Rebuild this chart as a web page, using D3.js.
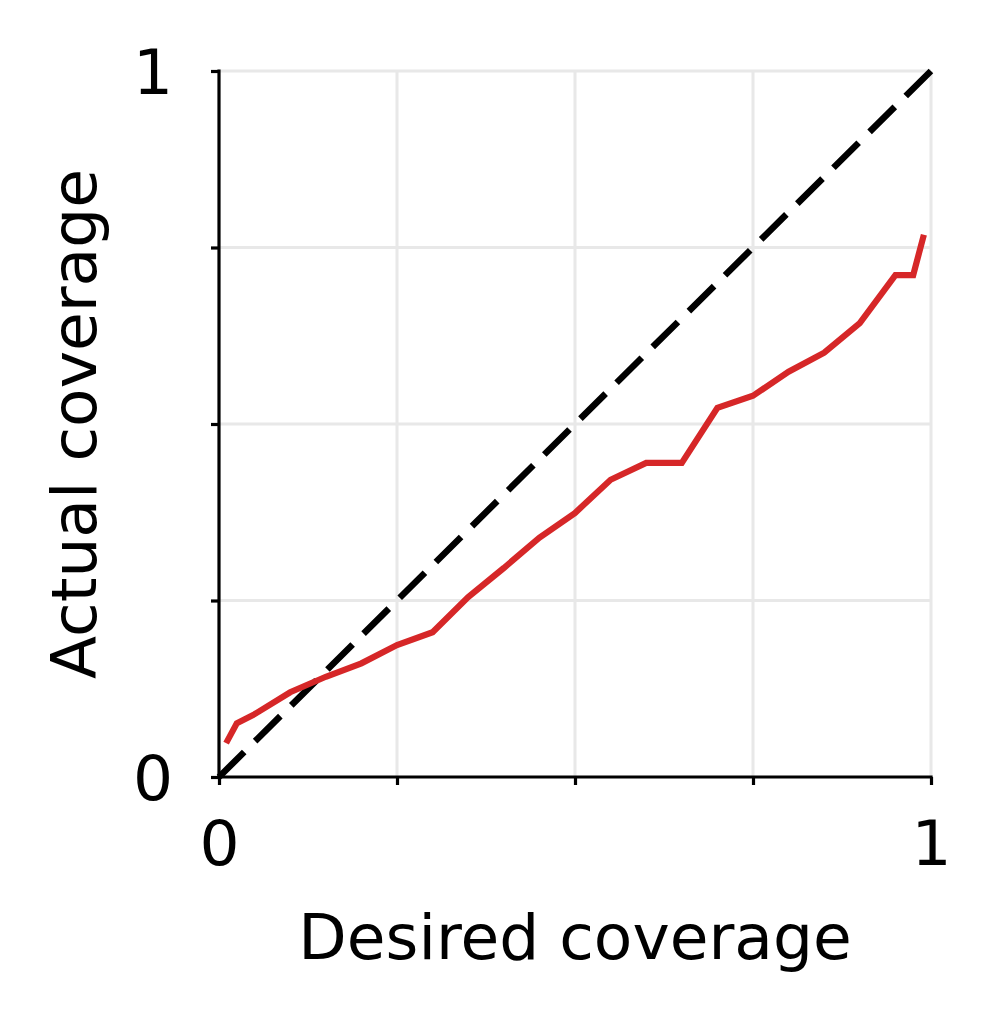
<!DOCTYPE html>
<html>
<head>
<meta charset="utf-8">
<script src="https://cdn.jsdelivr.net/npm/d3@7"></script>
<style>
  body { margin: 0; background: #fff; }
  text { font-family: "DejaVu Sans", sans-serif; fill: #000; }
</style>
</head>
<body>
<div class="viz"></div>
<script>
// desired vs actual coverage
const desired = [0.01, 0.025, 0.05, 0.1, 0.15, 0.2, 0.25, 0.3, 0.35, 0.4, 0.45, 0.5,
                 0.55, 0.6, 0.65, 0.7, 0.75, 0.8, 0.85, 0.9, 0.95, 0.975, 0.99]
const actual = [0.048, 0.076, 0.089, 0.120, 0.142, 0.161, 0.187, 0.205, 0.255, 0.296, 0.339, 0.374,
                0.421, 0.445, 0.445, 0.523, 0.540, 0.574, 0.601, 0.643, 0.711, 0.711, 0.768]
const tickVals = [0, 0.25, 0.5, 0.75, 1]
const tickLabels = {0: '0', 1: '1'}

const width = 998
const height = 1018
const plotLeft = 219, plotRight = 931, plotTop = 71, plotBottom = 777

const svg = d3.select('.viz')
  .append('svg')
  .attr('width', width)
  .attr('height', height)

const x = d3.scaleLinear().domain([0, 1]).range([plotLeft, plotRight])
const y = d3.scaleLinear().domain([0, 1]).range([plotBottom, plotTop])

// grid
const grid = svg.append('g')
grid.selectAll('.gx')
  .data(tickVals.slice(1))
  .enter()
  .append('line')
  .attr('x1', d => x(d)).attr('x2', d => x(d))
  .attr('y1', y(0)).attr('y2', y(1))
  .attr('stroke', '#e8e8e8')
  .attr('stroke-width', 3)
grid.selectAll('.gy')
  .data(tickVals.slice(1))
  .enter()
  .append('line')
  .attr('y1', d => y(d)).attr('y2', d => y(d))
  .attr('x1', x(0)).attr('x2', x(1))
  .attr('stroke', '#e8e8e8')
  .attr('stroke-width', 3)

// diagonal
svg.append('path')
  .attr('d', d3.line()([[x(0), y(0)], [x(1), y(1)]]))
  .attr('stroke', '#000')
  .attr('stroke-width', 6.5)
  .attr('stroke-dasharray', '35.5,15.4')
  .attr('fill', 'none')

// coverage line
const line = d3.line()
  .x((d, i) => x(desired[i]))
  .y(d => y(d))

svg.append('path')
  .attr('d', line(actual))
  .attr('stroke', '#d62728')
  .attr('stroke-width', 6.2)
  .attr('stroke-linejoin', 'miter')
  .attr('fill', 'none')

// axes
const xAxis = d3.axisBottom(x)
  .tickValues(tickVals)
  .tickSize(8)
  .tickPadding(35)
  .tickFormat(d => tickLabels[d] || '')
const yAxis = d3.axisLeft(y)
  .tickValues(tickVals)
  .tickSize(8)
  .tickPadding(38)
  .tickFormat(d => tickLabels[d] || '')

const gx = svg.append('g')
  .attr('transform', `translate(0,${plotBottom})`)
  .call(xAxis)
const gy = svg.append('g')
  .attr('transform', `translate(${plotLeft},0)`)
  .call(yAxis)

for (const g of [gx, gy]) {
  g.select('.domain').remove()
  g.selectAll('.tick line').attr('stroke', '#000').attr('stroke-width', 3.2)
  g.selectAll('.tick text')
    .style('font-size', '63px')
    .style('font-family', '"DejaVu Sans", sans-serif')
}
gy.selectAll('.tick text').attr('dy', '0.36em')

svg.append('line')
  .attr('x1', plotLeft - 1.6).attr('x2', plotRight + 1.6)
  .attr('y1', plotBottom).attr('y2', plotBottom)
  .attr('stroke', '#000').attr('stroke-width', 3.2)
svg.append('line')
  .attr('x1', plotLeft).attr('x2', plotLeft)
  .attr('y1', plotTop - 1.6).attr('y2', plotBottom + 1.6)
  .attr('stroke', '#000').attr('stroke-width', 3.2)

// labels
svg.append('text')
  .text('Desired coverage')
  .attr('text-anchor', 'middle')
  .attr('x', (plotLeft + plotRight) / 2)
  .attr('y', 959)
  .style('font-size', '63px')

svg.append('text')
  .text('Actual coverage')
  .attr('text-anchor', 'middle')
  .attr('transform', `translate(96,${(plotTop + plotBottom) / 2}) rotate(-90)`)
  .style('font-size', '63px')
</script>
</body>
</html>
